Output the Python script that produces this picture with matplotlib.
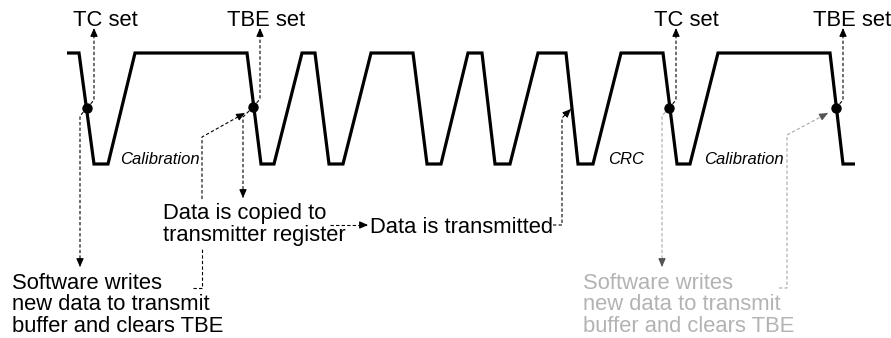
import numpy as np
import matplotlib
matplotlib.use("Agg")
import matplotlib.pyplot as plt

# === DATA (pixel coordinates of the reference drawing) ===

# waveform corner x positions and logic level (1 = high, 0 = low)
wave_x = [67, 79, 94, 108, 135, 247, 261, 274, 302, 315, 329, 343, 371, 413,
          427, 441, 468, 482, 495, 510, 538, 566, 578, 593, 621, 663, 677, 690,
          718, 830, 843, 855]
wave_level = [1, 1, 0, 0] * 8

# flag events: dots on the falling edges
dot_x = [87, 253, 669, 836]
dot_y = [108, 107, 108, 108]

# flag labels above the waveform
flag_labels = ["TC set", "TBE set", "TC set", "TBE set"]
flag_label_x = [73, 227, 654, 813]
flag_arrow_x = [94, 260, 676, 843]

# italic frame labels inside the low parts
frame_labels = ["Calibration", "CRC", "Calibration"]
frame_label_x = [120, 608, 704]

# dashed annotation paths: (x list, y list, grey?)
paths = [
    ([87, 80, 80], [108, 116, 267], False),
    ([253, 243, 243], [107, 117, 198], False),
    ([193, 202, 202], [288, 288, 248], False),
    ([202, 202, 245], [199, 137, 113], False),
    ([330, 368], [225, 225], False),
    ([553, 562, 562, 571], [225, 225, 118, 109], False),
    ([669, 662, 662], [108, 116, 267], True),
    ([779, 787, 787, 828], [288, 288, 135, 113], True),
]
# which paths end with an arrow head
path_has_arrow = [True, True, False, True, True, True, True, True]

software_lines = ["Software writes", "new data to transmit", "buffer and clears TBE"]
software_x = [12, 583]
software_grey = [False, True]

copied_lines = ["Data is copied to", "transmitter register"]

HIGH_Y, LOW_Y = 53, 164
BLACK = "#000000"
GREY_TEXT = "#b3b3b3"
GREY_LINE = "#a8a8a8"
FONT = "Liberation Sans"
BIG = 15.8
SMALL = 12

plt.rcParams["font.family"] = [FONT, "DejaVu Sans"]

fig = plt.figure(figsize=(8.91, 3.38), dpi=100)
ax = fig.add_axes([0, 0, 1, 1])
ax.set_xlim(0, 891)
ax.set_ylim(338, 0)
ax.axis("off")


def arrow_head(ax, x0, y0, x1, y1, color):
    """Small solid arrow head at (x1, y1) pointing from (x0, y0)."""
    d = np.array([x1 - x0, y1 - y0], dtype=float)
    d /= np.hypot(*d)
    start = np.array([x1, y1]) - d * 5
    ax.annotate(
        "", xy=(x1, y1), xytext=tuple(start),
        arrowprops=dict(arrowstyle="-|>,head_length=0.5,head_width=0.22",
                        color=color, lw=0.8, shrinkA=0, shrinkB=0),
        zorder=4,
    )


# waveform
wave_y = [LOW_Y - lv * (LOW_Y - HIGH_Y) for lv in wave_level]
ax.plot(wave_x, wave_y, color=BLACK, lw=2.3, solid_joinstyle="miter",
        solid_capstyle="butt", zorder=3)
ax.plot(dot_x, dot_y, "o", color=BLACK, ms=6.5, zorder=5)

# flag arrows and labels
for lab, lx, ax_x, dx, dy in zip(flag_labels, flag_label_x, flag_arrow_x, dot_x, dot_y):
    ax.plot([dx, ax_x, ax_x], [dy, dy - 8, 29], color=BLACK, lw=0.8,
            linestyle=(0, (3, 2)), zorder=2)
    arrow_head(ax, ax_x, 40, ax_x, 28, BLACK)
    ax.text(lx, 26, lab, fontsize=BIG, ha="left", va="baseline", color=BLACK)

for lab, lx in zip(frame_labels, frame_label_x):
    ax.text(lx, 164, lab, fontsize=SMALL, style="italic", ha="left",
            va="baseline", color=BLACK)

# dashed annotation paths
for (px, py, grey), has_arrow in zip(paths, path_has_arrow):
    col = GREY_LINE if grey else BLACK
    ax.plot(px, py, color=col, lw=0.8, linestyle=(0, (3, 2)), zorder=2)
    if has_arrow:
        arrow_head(ax, px[-2], py[-2], px[-1], py[-1],
                   "#555555" if grey else BLACK)

# text blocks
for sx, grey in zip(software_x, software_grey):
    for i, line in enumerate(software_lines):
        ax.text(sx, 289 + i * 21.5, line, fontsize=BIG, ha="left",
                va="baseline", color=GREY_TEXT if grey else BLACK)

for i, line in enumerate(copied_lines):
    ax.text(163, 219 + i * 21.5, line, fontsize=BIG, ha="left",
            va="baseline", color=BLACK)

ax.text(370, 233, "Data is transmitted", fontsize=BIG, ha="left",
        va="baseline", color=BLACK)

fig.savefig("out.png", dpi=100)
